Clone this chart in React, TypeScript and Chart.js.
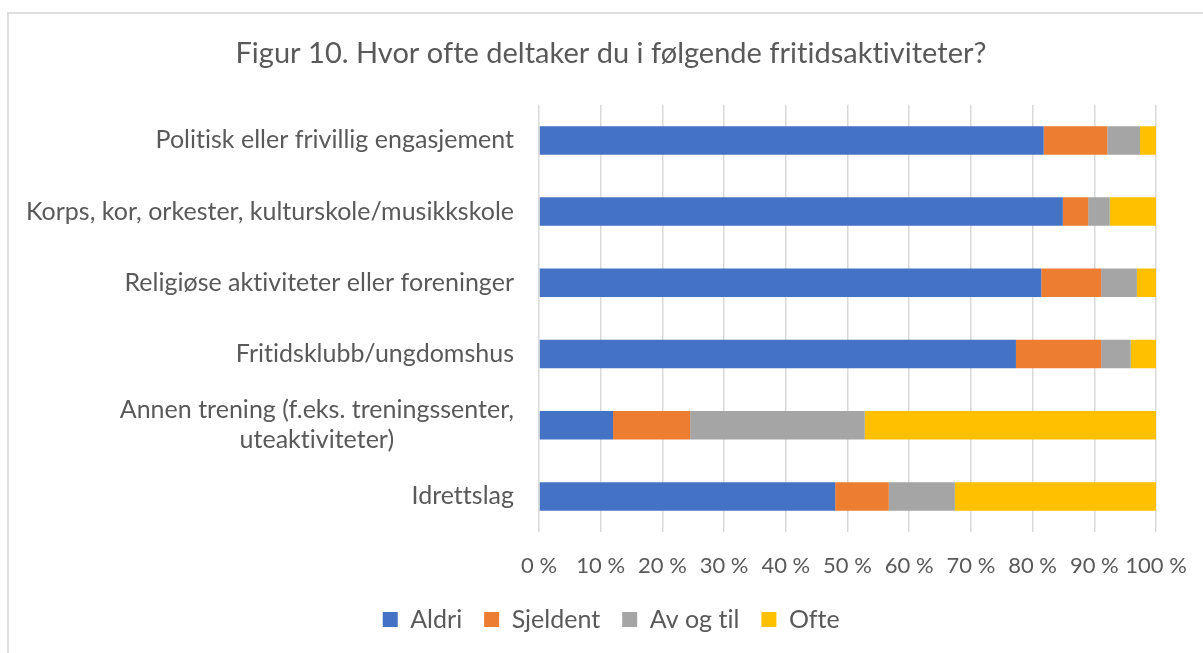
import React, { useEffect, useRef } from "react";
import { Chart, registerables } from "chart.js";

Chart.register(...registerables);

const categories: (string | string[])[] = [
  "Politisk eller frivillig engasjement",
  "Korps, kor, orkester, kulturskole/musikkskole",
  "Religiøse aktiviteter eller foreninger",
  "Fritidsklubb/ungdomshus",
  ["Annen trening (f.eks. treningssenter,", "uteaktiviteter)"],
  "Idrettslag",
];

const seriesNames = ["Aldri", "Sjeldent", "Av og til", "Ofte"];
const aldri = [81.8, 84.9, 81.4, 77.3, 12.0, 48.0];
const sjeldent = [10.3, 4.1, 9.7, 13.8, 12.5, 8.7];
const avOgTil = [5.3, 3.5, 5.8, 4.8, 28.3, 10.7];
const ofte = [2.6, 7.5, 3.1, 4.1, 47.2, 32.6];
const seriesColors = ["#4472C4", "#ED7D31", "#A5A5A5", "#FFC000"];
const xTicks = [0, 10, 20, 30, 40, 50, 60, 70, 80, 90, 100];

const titleText = "Figur 10. Hvor ofte deltaker du i følgende fritidsaktiviteter?";
const FONT = "Lato";
const TEXT = "#595959";

const noLigaturePlugin = {
  id: "noLigatures",
  beforeDraw(chart: any) {
    const ctx = chart.ctx;
    try {
      ctx.textRendering = "optimizeSpeed";
    } catch (e) {}
    try {
      ctx.letterSpacing = "0.01px";
    } catch (e) {}
  },
};

const yLabelPlugin = {
  id: "yLabels",
  afterDraw(chart: any) {
    const ctx = chart.ctx;
    const yScale = chart.scales.y;
    const right = chart.chartArea.left - 25;
    const lh = 30;
    ctx.save();
    ctx.font = `25px ${FONT}`;
    ctx.fillStyle = TEXT;
    ctx.textBaseline = "middle";
    categories.forEach((lab, i) => {
      const y = yScale.getPixelForValue(i);
      const lines = Array.isArray(lab) ? lab : [lab];
      const maxW = Math.max(...lines.map((l) => ctx.measureText(l).width));
      lines.forEach((l, j) => {
        const yy = y + (j - (lines.length - 1) / 2) * lh;
        if (lines.length > 1) {
          ctx.textAlign = "center";
          ctx.fillText(l, right - maxW / 2, yy);
        } else {
          ctx.textAlign = "right";
          ctx.fillText(l, right, yy);
        }
      });
    });
    ctx.restore();
  },
};

export default function App() {
  const ref = useRef<HTMLCanvasElement>(null);
  useEffect(() => {
    if (!ref.current) return;
    const datasets = [aldri, sjeldent, avOgTil, ofte].map((d, i) => ({
      label: seriesNames[i],
      data: d,
      backgroundColor: seriesColors[i],
      borderWidth: 0,
      barPercentage: 0.4,
      categoryPercentage: 1,
    }));
    const chart = new Chart(ref.current, {
      type: "bar",
      data: { labels: categories.map((c) => (Array.isArray(c) ? c.join(" ") : c)), datasets },
      options: {
        indexAxis: "y",
        animation: false,
        responsive: false,
        maintainAspectRatio: false,
        layout: { padding: { left: 66, right: 47, top: 12, bottom: 11 } },
        plugins: {
          title: {
            display: true,
            text: titleText,
            color: TEXT,
            font: { family: FONT, size: 29, weight: "normal" },
            padding: { top: 24, bottom: 34 },
          },
          legend: {
            position: "bottom",
            labels: {
              color: TEXT,
              font: { family: FONT, size: 25 },
              boxWidth: 15,
              boxHeight: 15,
              padding: 22,
            },
          },
          tooltip: { enabled: false },
        },
        scales: {
          x: {
            stacked: true,
            min: 0,
            max: 100,
            afterBuildTicks: (s: any) => {
              s.ticks = xTicks.map((v) => ({ value: v }));
            },
            afterFit: (s: any) => {
              s.height = 53;
              s.paddingLeft = 0;
              s.paddingRight = 0;
            },
            grid: { color: "#d9d9d9", lineWidth: 1.5, drawTicks: false },
            border: { display: false },
            ticks: {
              color: TEXT,
              font: { family: FONT, size: 22 },
              padding: 21,
              maxRotation: 0,
              autoSkip: false,
              callback: (v: any) => `${v} %`,
            },
          },
          y: {
            stacked: true,
            afterFit: (s: any) => {
              s.width = 473;
            },
            grid: { display: false },
            border: { display: false },
            ticks: { display: false },
          },
        },
      },
      plugins: [noLigaturePlugin, yLabelPlugin],
    });
    return () => chart.destroy();
  }, []);

  return (
    <div
      style={{
        position: "fixed",
        left: 0,
        top: 0,
        width: 1203,
        height: 653,
        overflow: "hidden",
        background: "#fff",
      }}
    >
      <div
        style={{
          position: "absolute",
          left: 7,
          top: 12,
          width: 1300,
          height: 800,
          border: "2px solid #dedede",
        }}
      />
      <canvas
        ref={ref}
        width={1203}
        height={653}
        style={{ position: "absolute", left: 0, top: 0, width: 1203, height: 653 }}
      />
    </div>
  );
}
